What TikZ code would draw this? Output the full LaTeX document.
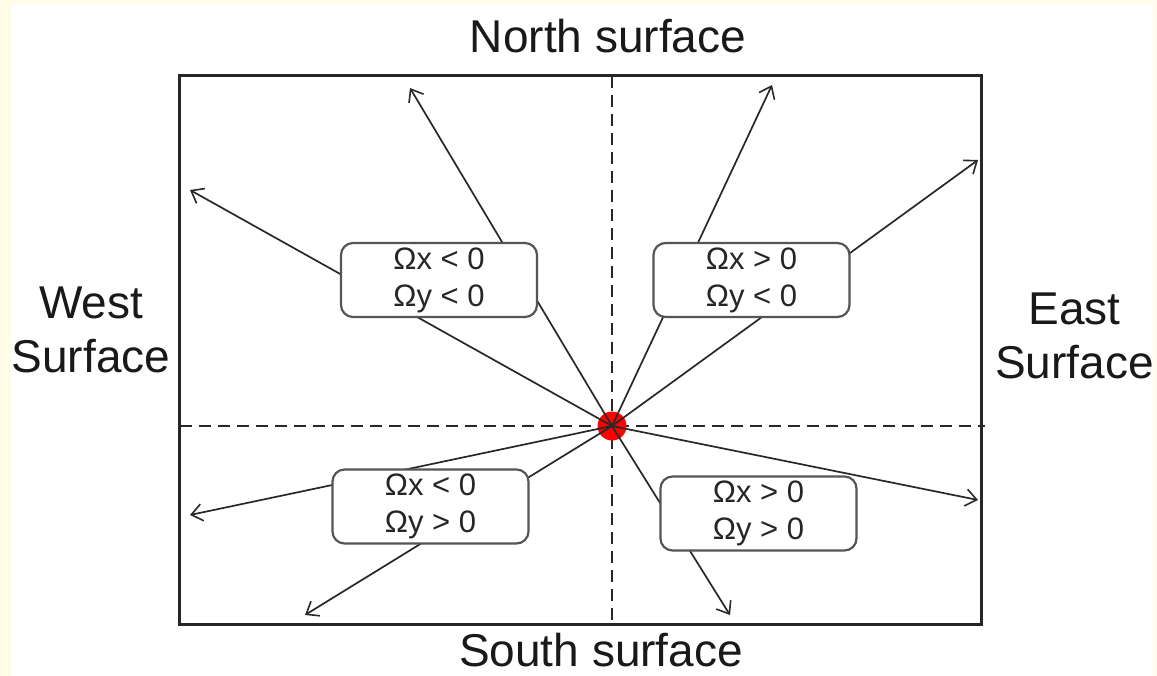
\documentclass[tikz,border=0pt]{standalone}
\usepackage{fontspec}
\setmainfont{Liberation Sans}
\usetikzlibrary{arrows.meta}
\definecolor{bgyellow}{RGB}{255,253,230}
\definecolor{linegray}{RGB}{40,40,40}
\definecolor{boxgray}{RGB}{85,85,85}
\tikzset{
  ray/.style={draw=linegray, line width=1.7pt, -{Straight Barb[length=11pt,width=17pt,line width=1.6pt]}},
  axisline/.style={draw=linegray, line width=1.6pt, dash pattern=on 12pt off 7pt},
  quadbox/.style={draw=boxgray, fill=white, line width=2.2pt, rounded corners=12pt,
    minimum width=196pt, minimum height=74pt, inner sep=0pt, align=center,
    font=\fontsize{31}{37}\selectfont, text=black!85},
  sidelabel/.style={font=\fontsize{46}{54}\selectfont, align=center, text=black!90},
  reddot/.style={circle, fill=red, minimum size=29pt, inner sep=0pt}
}
\begin{document}
\begin{tikzpicture}[x=1pt,y=-1pt]
\useasboundingbox (0,0) rectangle (1157,676);
\fill[bgyellow] (0,0) rectangle (1157,676);
\fill[white] (11,4) rectangle (1154,676);
% frame
\draw[black!85, line width=3pt] (179,76) rectangle (981,624);
% axes
\coordinate (nt) at (612,76);
\coordinate (sb) at (612,624);
\coordinate (wl) at (180,426);
\coordinate (er) at (985,426);
\draw[axisline] (nt) -- (sb);
\draw[axisline] (wl) -- (er);
% centre
\coordinate (c) at (612,426);
\node[reddot] (dot) at (c) {};
% ray ends
\coordinate (e1) at (410,88);
\coordinate (e2) at (190,190);
\coordinate (e3) at (772,85);
\coordinate (e4) at (978,160);
\coordinate (e5) at (190,515);
\coordinate (e6) at (305,615);
\coordinate (e7) at (978,500);
\coordinate (e8) at (730,615);
\foreach \e in {e1,e2,e3,e4,e5,e6,e7,e8} \draw[ray] (c) -- (\e);
% boxes
\node[quadbox] (bnw) at (439,280) {Ωx < 0\\Ωy < 0};
\node[quadbox] (bne) at (751.5,280) {Ωx > 0\\Ωy < 0};
\node[quadbox] (bsw) at (430.5,506.5) {Ωx < 0\\Ωy > 0};
\node[quadbox] (bse) at (758.5,513.5) {Ωx > 0\\Ωy > 0};
% labels
\node[sidelabel, anchor=base] (north) at (608,53) {North surface};
\node[sidelabel, anchor=base] (south) at (601,666) {South surface};
\node[sidelabel] (west) at (91,330) {West\\Surface};
\node[sidelabel] (east) at (1074.5,336) {East\\Surface};
\end{tikzpicture}
\end{document}
